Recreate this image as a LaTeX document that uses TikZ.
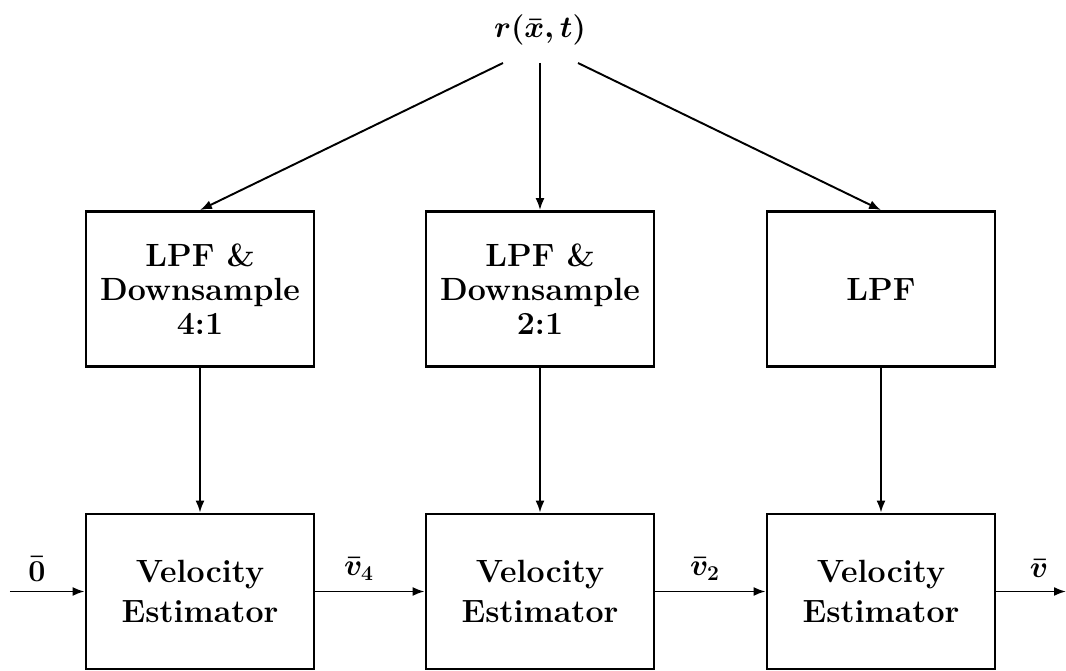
\documentclass[tikz,border=0pt]{standalone}
\usepackage{tikz, amsfonts, amsmath}
\usetikzlibrary{arrows.meta}

\begin{document}
\begin{tikzpicture}[
	blockbox/.style={draw, line width=1.6pt, minimum width=4.56cm, minimum height=3.1cm,
		inner sep=0pt, align=center, font=\fontsize{18.3}{19.5}\selectfont\bfseries},
	estbox/.style={blockbox, font=\fontsize{18.3}{22.5}\selectfont\bfseries},
	sig/.style={line width=1.1pt, -{Latex[length=2.4mm,width=1.8mm]}},
	siglabel/.style={inner sep=0pt, font=\fontsize{18}{20}\selectfont\boldmath}
	]
	\useasboundingbox (0,0) rectangle (21.32,13.42);

	\node[siglabel] (r) at (10.8,12.82) {$r(\bar{x},t)$};
	\coordinate (rleft) at (10.06,12.16);
	\coordinate (rmid) at (10.8,12.16);
	\coordinate (rright) at (11.56,12.16);

	\node[blockbox] (lpffour) at (4.0,7.64) {LPF \&\\Downsample\\4:1};
	\node[blockbox] (lpftwo) at (10.8,7.64) {LPF \&\\Downsample\\2:1};
	\node[blockbox] (lpfone) at (17.62,7.64) {LPF};

	\node[estbox] (vefour) at (4.0,1.59) {Velocity\\Estimator};
	\node[estbox] (vetwo) at (10.8,1.59) {Velocity\\Estimator};
	\node[estbox] (veone) at (17.62,1.59) {Velocity\\Estimator};

	\draw[sig] (rleft) -- (lpffour.north);
	\draw[sig] (rmid) -- (lpftwo.north);
	\draw[sig] (rright) -- (lpfone.north);

	\draw[sig] (lpffour) -- (vefour);
	\draw[sig] (lpftwo) -- (vetwo);
	\draw[sig] (lpfone) -- (veone);

	\coordinate (in) at (0.2,1.59);
	\coordinate (out) at (21.32,1.59);
	\draw[sig] (in) -- (vefour.west);
	\draw[sig] (vefour) -- (vetwo);
	\draw[sig] (vetwo) -- (veone);
	\draw[sig] (veone.east) -- (out);

	\node[siglabel] (lzero) at (0.74,2.04) {$\bar{0}$};
	\node[siglabel] (lvfour) at (7.18,2.04) {$\bar{v}_4$};
	\node[siglabel] (lvtwo) at (14.1,2.04) {$\bar{v}_2$};
	\node[siglabel] (lvout) at (20.78,2.04) {$\bar{v}$};
\end{tikzpicture}
\end{document}
